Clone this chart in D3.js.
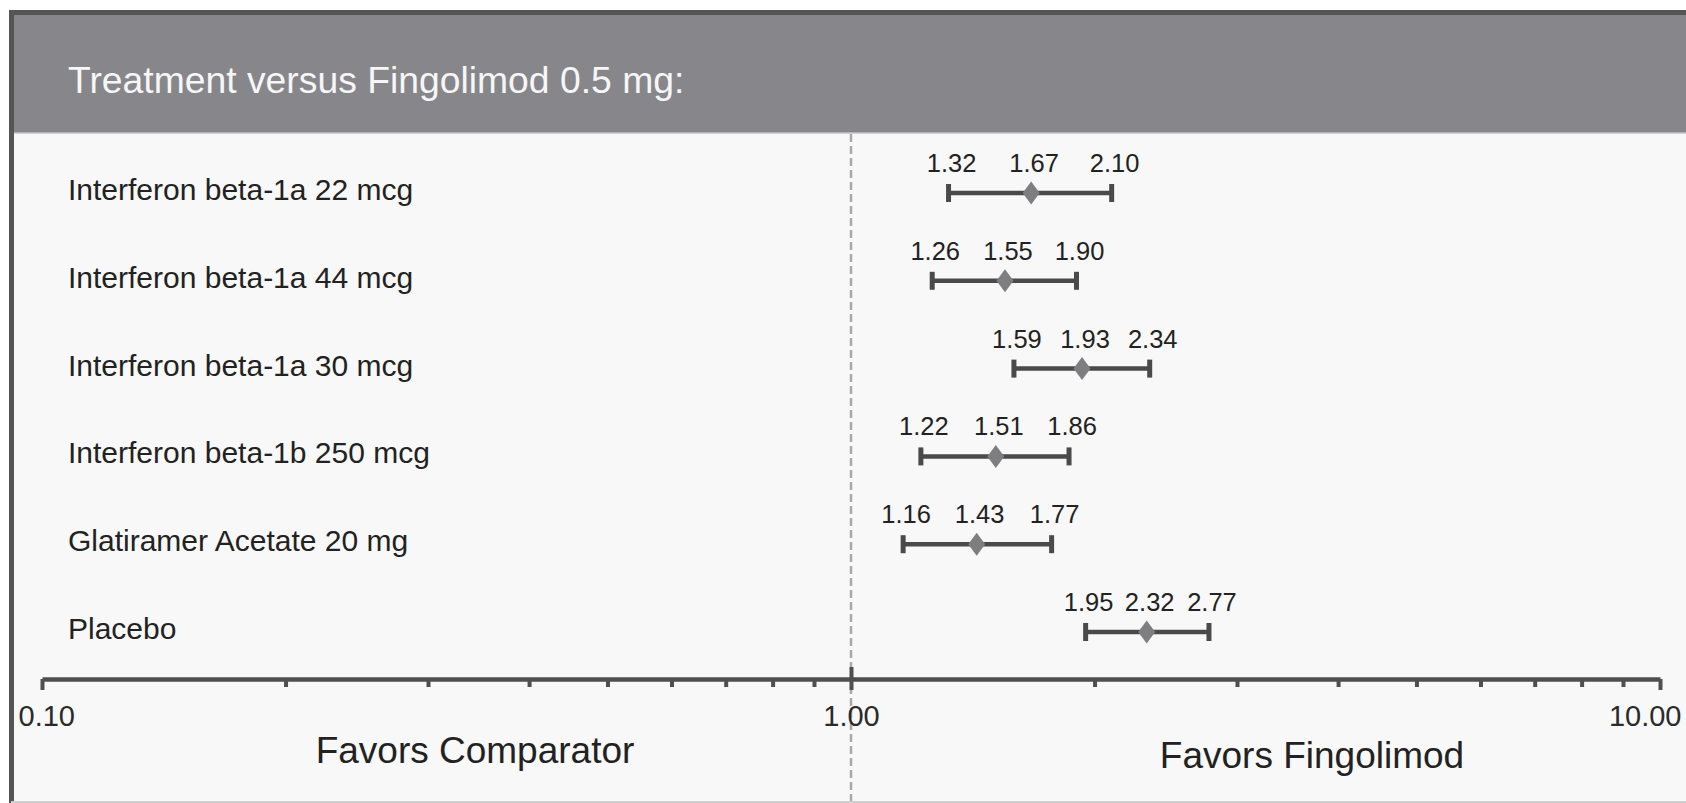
<!DOCTYPE html>
<html>
<head>
<meta charset="utf-8">
<script src="https://cdn.jsdelivr.net/npm/d3@7"></script>
<style>
  body { margin: 0; background: #fff; }
  svg { display: block; font-family: "Liberation Sans", Arial, Helvetica, sans-serif; }
</style>
</head>
<body>
<svg width="1686" height="803"></svg>
<script>
const width = 1686
const height = 803

// Data
const treatments = [
    "Interferon beta-1a 22 mcg",
    "Interferon beta-1a 44 mcg",
    "Interferon beta-1a 30 mcg",
    "Interferon beta-1b 250 mcg",
    "Glatiramer Acetate 20 mg",
    "Placebo"
]
const lower    = [1.32, 1.26, 1.59, 1.22, 1.16, 1.95]
const estimate = [1.67, 1.55, 1.93, 1.51, 1.43, 2.32]
const upper    = [2.10, 1.90, 2.34, 1.86, 1.77, 2.77]

// Axis ticks
const majorTicks = [0.1, 1, 10]
const minorTicks = [0.2, 0.3, 0.4, 0.5, 0.6, 0.7, 0.8, 0.9, 2, 3, 4, 5, 6, 7, 8, 9]

const title = "Treatment versus Fingolimod 0.5 mg:"
const leftNote = "Favors Comparator"
const rightNote = "Favors Fingolimod"

const rows = treatments.map((t, i) => ({name: t, lo: lower[i], est: estimate[i], hi: upper[i]}))

let svg = d3.select("svg")

// Scales
let xScale = d3.scaleLog()
    .domain([0.1, 10])
    .range([42, 1660])
let yScale = d3.scalePoint()
    .domain(treatments)
    .range([193, 632])

const axisY = 679
const headerBottom = 133

// Frame: body, header band, borders
svg.append("rect")
    .attr("x", 11).attr("y", 12)
    .attr("width", width - 11).attr("height", height - 12)
    .attr("fill", "#f8f8f8")
svg.append("rect")
    .attr("x", 11).attr("y", 12)
    .attr("width", width - 11).attr("height", headerBottom - 12)
    .attr("fill", "#87878b")
svg.append("line")
    .attr("x1", 11).attr("x2", width)
    .attr("y1", headerBottom).attr("y2", headerBottom)
    .attr("stroke", "#c4c4c6").attr("stroke-width", 1.5)
svg.append("line")
    .attr("x1", 9).attr("x2", width)
    .attr("y1", 12.5).attr("y2", 12.5)
    .attr("stroke", "#555").attr("stroke-width", 5)
svg.append("line")
    .attr("x1", 11.5).attr("x2", 11.5)
    .attr("y1", 10).attr("y2", height)
    .attr("stroke", "#555").attr("stroke-width", 5)
svg.append("line")
    .attr("x1", 11).attr("x2", width)
    .attr("y1", height - 1).attr("y2", height - 1)
    .attr("stroke", "#cfcfcf").attr("stroke-width", 2)

// Title
svg.append("text")
    .attr("x", 68).attr("y", 93)
    .attr("fill", "#f6f6f6")
    .attr("font-size", 37.3)
    .text(title)

// Reference line at 1
svg.append("line")
    .attr("x1", xScale(1)).attr("x2", xScale(1))
    .attr("y1", headerBottom + 1).attr("y2", height - 2)
    .attr("stroke", "#a9a9a9")
    .attr("stroke-width", 2.5)
    .attr("stroke-dasharray", "8,4")

// Minor ticks
svg.append("g")
    .attr("class", "axis-minor")
    .attr("transform", `translate(0,${axisY})`)
    .call(d3.axisBottom(xScale)
        .tickValues(minorTicks)
        .tickSize(8)
        .tickSizeOuter(0)
        .tickFormat(""))
    .call(g => g.select(".domain").remove())
    .selectAll("line")
    .attr("stroke", "#4f4f4f")
    .attr("stroke-width", 4)

// Major ticks and axis line
const axisG = svg.append("g")
    .attr("class", "axis")
    .attr("transform", `translate(0,${axisY})`)
    .call(d3.axisBottom(xScale)
        .tickValues(majorTicks)
        .tickSize(11)
        .tickSizeOuter(0)
        .tickFormat(d3.format(".2f")))
axisG.select(".domain")
    .attr("stroke", "#4f4f4f")
    .attr("stroke-width", 4.5)
axisG.selectAll(".tick line")
    .attr("stroke", "#4f4f4f")
    .attr("stroke-width", 4)
    .attr("y1", d => d === 1 ? -12 : 0)
axisG.selectAll(".tick text")
    .attr("fill", "#2a2a2a")
    .attr("font-size", 29)
    .attr("font-family", "Liberation Sans, Arial, sans-serif")
    .attr("y", 47).attr("dy", 0)
    .attr("text-anchor", d => d === 0.1 ? "start" : d === 10 ? "end" : "middle")
    .attr("x", d => d === 0.1 ? -24 : d === 10 ? 21 : 0)

// Direction notes
svg.append("text")
    .attr("x", 475).attr("y", 763)
    .attr("text-anchor", "middle")
    .attr("fill", "#222")
    .attr("font-size", 37)
    .text(leftNote)
svg.append("text")
    .attr("x", 1312).attr("y", 768)
    .attr("text-anchor", "middle")
    .attr("fill", "#222")
    .attr("font-size", 37)
    .text(rightNote)

// Rows
let fig = svg.append("g")
    .selectAll("g")
    .data(rows)
    .enter()
    .append("g")
    .attr("transform", d => `translate(0,${yScale(d.name)})`)

// Treatment labels
fig.append("text")
    .attr("x", 68).attr("y", 7)
    .attr("fill", "#222")
    .attr("font-size", 30)
    .text(d => d.name)

// CI line
fig.append("line")
    .attr("x1", d => xScale(d.lo)).attr("x2", d => xScale(d.hi))
    .attr("y1", 0).attr("y2", 0)
    .attr("stroke", "#4a4a4a")
    .attr("stroke-width", 4.5)
// CI caps
fig.selectAll(".cap")
    .data(d => [d.lo, d.hi])
    .enter()
    .append("line")
    .attr("class", "cap")
    .attr("x1", v => xScale(v)).attr("x2", v => xScale(v))
    .attr("y1", -9).attr("y2", 9)
    .attr("stroke", "#4a4a4a")
    .attr("stroke-width", 5)

// Point estimate diamond
fig.append("path")
    .attr("d", d => {
        const cx = xScale(d.est)
        return `M${cx},-11.5 L${cx + 8.5},0 L${cx},11.5 L${cx - 8.5},0 Z`
    })
    .attr("fill", "#7e7e80")

// Value labels
fig.selectAll(".val")
    .data(d => [d.lo, d.est, d.hi])
    .enter()
    .append("text")
    .attr("class", "val")
    .attr("x", v => xScale(v) + 3)
    .attr("y", -21)
    .attr("text-anchor", "middle")
    .attr("fill", "#222")
    .attr("font-size", 25.5)
    .text(v => v.toFixed(2))
</script>
</body>
</html>
